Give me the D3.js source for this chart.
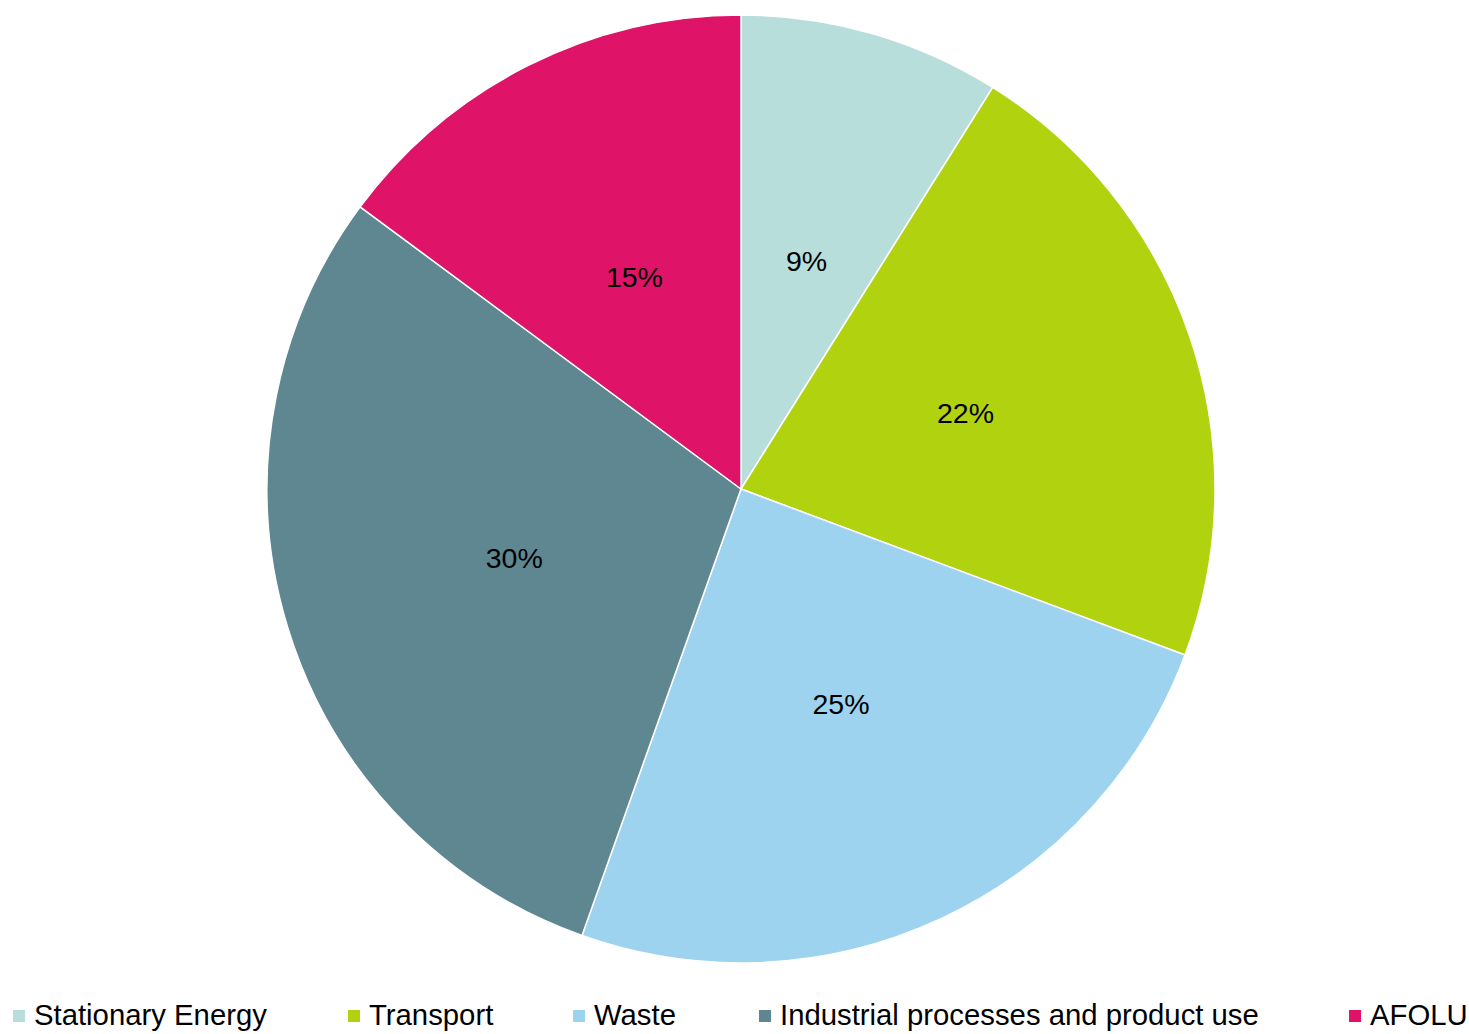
<!DOCTYPE html>
<html>
<head>
<meta charset="utf-8">
<script src="https://cdn.jsdelivr.net/npm/d3@7"></script>
<style>
  html, body { margin: 0; padding: 0; background: #ffffff; }
  svg { display: block; font-family: "Liberation Sans", Arial, sans-serif; }
</style>
</head>
<body>
<svg id="chart" width="1469" height="1034"></svg>
<script>
// Emission shares by sector (percent)
const categories = ["Stationary Energy", "Transport", "Waste", "Industrial processes and product use", "AFOLU"];
const shares = [9, 22, 25, 30, 15];
const colors = ["#B8DEDC", "#B1D20F", "#9DD3EF", "#5F8792", "#DF1367"];

const svg = d3.select("#chart");
const cx = 741, cy = 489, radius = 474;

const data = categories.map((c, i) => ({ name: c, value: shares[i], color: colors[i] }));

const pie = d3.pie().value(d => d.value).sort(null);
const arc = d3.arc().innerRadius(0).outerRadius(radius);

const g = svg.append("g").attr("transform", `translate(${cx},${cy})`);
const arcs = pie(data);

g.selectAll("path.slice")
  .data(arcs)
  .join("path")
  .attr("class", "slice")
  .attr("d", arc)
  .attr("fill", d => d.data.color)
  .attr("stroke", "#ffffff")
  .attr("stroke-width", 1.5)
  .attr("stroke-linejoin", "round");

g.selectAll("text.pct")
  .data(arcs)
  .join("text")
  .attr("class", "pct")
  .attr("transform", d => `translate(${arc.centroid(d)})`)
  .attr("text-anchor", "middle")
  .attr("dy", "0.35em")
  .attr("font-size", 28.5)
  .attr("fill", "#000000")
  .text(d => `${d.data.value}%`);

// Legend along the bottom
const legendX = [13, 348, 573, 759, 1349];
const legend = svg.append("g").attr("class", "legend");
const baseline = 1025, markerSize = 12, textOffset = 21;
data.forEach((d, i) => {
  const x = legendX[i];
  legend.append("rect")
    .attr("x", x).attr("y", baseline - 15)
    .attr("width", markerSize).attr("height", markerSize)
    .attr("fill", d.color);
  legend.append("text")
    .attr("x", x + textOffset).attr("y", baseline)
    .attr("font-size", 29.3)
    .attr("fill", "#000000")
    .text(d.name);
});
</script>
</body>
</html>
